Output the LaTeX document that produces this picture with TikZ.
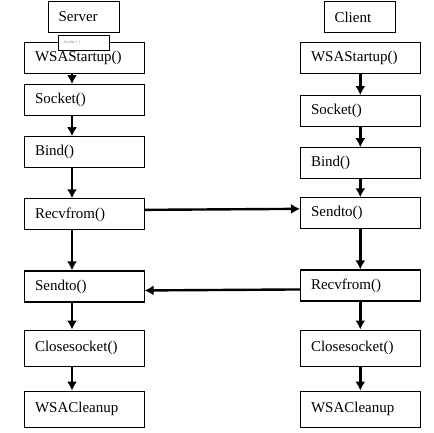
\documentclass[tikz,border=0pt]{standalone}
\usepackage{fontspec}
\setmainfont{Liberation Serif}
\usetikzlibrary{arrows.meta,positioning}

\begin{document}
\begin{tikzpicture}[every node/.style={font=\fontsize{15}{17}\selectfont},
  box/.style={draw,line width=1.1pt,minimum height=31pt,text width=98.5pt,inner xsep=10.5pt,align=left},
  tallbox/.style={box,minimum height=36pt},
  title/.style={draw,line width=1.1pt,minimum height=31pt,text width=51pt,inner xsep=10pt,align=left},
  arr/.style={-{Latex[length=9pt,width=10pt]},line width=2.4pt}]
\useasboundingbox (0pt,0pt) rectangle (433pt,-433pt);
\node[title,anchor=north west] (srv) at (48pt,-1pt) {Server};
\node[title,anchor=north west] (cli) at (324pt,-1pt) {Client};
% server side
\node[box,anchor=north west] (swsa) at (24pt,-42pt) {WSAStartup()};
\node[box,below=10pt of swsa] (ssock) {Socket()};
\node[box,below=20pt of ssock] (sbind) {Bind()};
\node[box,below=30pt of sbind] (srecv) {Recvfrom()};
\node[box,below=40pt of srecv] (ssend) {Sendto()};
\node[tallbox,below=27pt of ssend] (sclose) {Closesocket()};
\node[tallbox,below=24pt of sclose] (sclean) {WSACleanup};
\node[draw,line width=0.7pt,fill=white,anchor=north west,minimum width=51pt,minimum height=15pt,text width=40pt,inner xsep=5pt,align=left,font=\fontsize{4}{5}\selectfont,text=gray] (tag) at (58pt,-35pt) {Socket ( )};
% client side
\node[box,anchor=north west] (cwsa) at (300pt,-42pt) {WSAStartup()};
\node[box,below=21pt of cwsa] (csock) {Socket()};
\node[box,below=20pt of csock] (cbind) {Bind()};
\node[box,below=18pt of cbind] (csend) {Sendto()};
\node[box,below=40pt of csend] (crecv) {Recvfrom()};
\node[tallbox,below=28pt of crecv] (cclose) {Closesocket()};
\node[tallbox,below=24pt of cclose] (cclean) {WSACleanup};
% arrows
\draw[arr] ([xshift=48pt]swsa.south west)--([xshift=48pt]ssock.north west);\draw[arr] ([xshift=48pt]ssock.south west)--([xshift=48pt]sbind.north west);
\draw[arr] ([xshift=48pt]sbind.south west)--([xshift=48pt]srecv.north west);\draw[arr] ([xshift=48pt]srecv.south west)--([xshift=48pt]ssend.north west);
\draw[arr] ([xshift=48pt]ssend.south west)--([xshift=48pt]sclose.north west);\draw[arr] ([xshift=48pt]sclose.south west)--([xshift=48pt]sclean.north west);
\draw[arr] (cwsa)--(csock);\draw[arr] (csock)--(cbind);\draw[arr] (cbind)--(csend);
\draw[arr] (csend)--(crecv);\draw[arr] (crecv)--(cclose);\draw[arr] (cclose)--(cclean);
\draw[arr] ([yshift=4.5pt]srecv.east)--([yshift=4.5pt]csend.west);
\draw[arr] ([yshift=-4pt]crecv.west)--([yshift=-4pt]ssend.east);
\end{tikzpicture}
\end{document}
